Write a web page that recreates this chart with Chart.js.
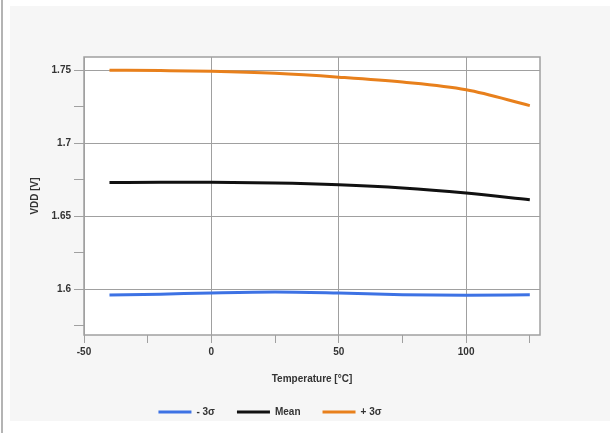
<!DOCTYPE html>
<html>
<head>
<meta charset="utf-8">
<script src="https://cdn.jsdelivr.net/npm/chart.js@4/dist/chart.umd.min.js"></script>
<style>
  body { margin: 0; background: #ffffff; }
  canvas { display: block; }
</style>
</head>
<body>
<canvas id="grafico" width="610" height="433"></canvas>
<script>
// valores
temperaturas = [-40, -20, 0, 25, 50, 75, 100, 125]
menos3s = [1.5959, 1.5965, 1.5973, 1.5979, 1.5972, 1.5961, 1.5958, 1.5961]
media = [1.6730, 1.6731, 1.6731, 1.6727, 1.6715, 1.6693, 1.6658, 1.6612]
mas3s = [1.7500, 1.7497, 1.7492, 1.7478, 1.7452, 1.7418, 1.7365, 1.7257]
etiquetas = ["- 3σ", "Mean", "+ 3σ"]
colores = ["#3d72e4", "#111111", "#e8801c"]

ticksX = [-50, -25, 0, 25, 50, 75, 100, 125]
ticksXMayores = [-50, 0, 50, 100]
ticksY = [1.575, 1.6, 1.625, 1.65, 1.675, 1.7, 1.725, 1.75]
ticksYMayores = ["1.6", "1.65", "1.7", "1.75"]

tituloX = "Temperature [°C]"
tituloY = "VDD [V]"

function serie(valores) {
	return temperaturas.map(function (t, i) { return {x: t, y: valores[i]}; });
}

function esMayorY(v) {
	return ticksYMayores.indexOf(String(Math.round(v * 1000) / 1000)) >= 0;
}

var fondo = {
	id: 'fondo',
	beforeDraw: function (chart) {
		var ctx = chart.ctx;
		ctx.save();
		ctx.fillStyle = '#ffffff';
		ctx.fillRect(0, 0, chart.width, chart.height);
		ctx.fillStyle = '#f6f6f6';
		ctx.fillRect(10, 6, chart.width - 10, 415);
		ctx.fillStyle = '#b4b4b4';
		ctx.fillRect(1, 0, 2, chart.height);
		var a = chart.chartArea;
		ctx.fillStyle = '#ffffff';
		ctx.fillRect(a.left, a.top, a.right - a.left, a.bottom - a.top);
		ctx.restore();
	},
	afterDatasetsDraw: function (chart) {
		var ctx = chart.ctx, a = chart.chartArea;
		ctx.save();
		ctx.strokeStyle = '#a0a0a0';
		ctx.lineWidth = 1.5;
		ctx.strokeRect(a.left, a.top, a.right - a.left, a.bottom - a.top);
		ctx.restore();
	}
};

Chart.defaults.font.family = "'Liberation Sans', Arial, sans-serif";
Chart.defaults.font.size = 10;
Chart.defaults.font.weight = 'bold';
Chart.defaults.color = '#333333';

new Chart(document.getElementById('grafico').getContext('2d'), {
	type: 'line',
	data: {
		datasets: [menos3s, media, mas3s].map(function (v, i) {
			return {
				label: etiquetas[i],
				data: serie(v),
				borderColor: colores[i],
				backgroundColor: colores[i],
				borderWidth: 3,
				pointRadius: 0,
				tension: 0.4,
				cubicInterpolationMode: 'monotone'
			};
		})
	},
	options: {
		responsive: false,
		animation: false,
		layout: { padding: { left: 0, right: 70, top: 57, bottom: 6 } },
		plugins: {
			legend: {
				position: 'bottom',
				labels: {
					usePointStyle: true,
					pointStyle: 'line',
					pointStyleWidth: 33,
					boxHeight: 9,
					padding: 22,
					color: '#333333'
				}
			},
			tooltip: { enabled: false }
		},
		scales: {
			x: {
				type: 'linear',
				min: -50,
				max: 129,
				afterFit: function (s) { s.height = 50; },
				afterBuildTicks: function (s) { s.ticks = ticksX.map(function (v) { return {value: v}; }); },
				ticks: {
					autoSkip: false,
					maxRotation: 0,
					padding: 3,
					callback: function (v) { return ticksXMayores.indexOf(v) >= 0 ? String(v) : ''; }
				},
				grid: {
					tickLength: 8,
					tickColor: '#a0a0a0',
					color: function (c) { return (c.tick && ticksXMayores.indexOf(c.tick.value) >= 0) ? '#a0a0a0' : 'rgba(0,0,0,0)'; },
					lineWidth: 1
				},
				border: { display: false },
				title: { display: true, text: tituloX, padding: 0, color: '#333333' }
			},
			y: {
				min: 1.5685,
				max: 1.759,
				afterFit: function (s) { s.width = 84; },
				afterBuildTicks: function (s) { s.ticks = ticksY.map(function (v) { return {value: v}; }); },
				ticks: {
					autoSkip: false,
					padding: 3,
					callback: function (v) { return esMayorY(v) ? String(Math.round(v * 1000) / 1000) : ''; }
				},
				grid: {
					tickLength: 10,
					tickColor: '#a0a0a0',
					color: function (c) { return (c.tick && esMayorY(c.tick.value)) ? '#a0a0a0' : 'rgba(0,0,0,0)'; },
					lineWidth: 1
				},
				border: { display: false },
				title: { display: true, text: tituloY, padding: { top: 29, bottom: 29 }, color: '#333333' }
			}
		}
	},
	plugins: [fondo]
});
</script>
</body>
</html>
